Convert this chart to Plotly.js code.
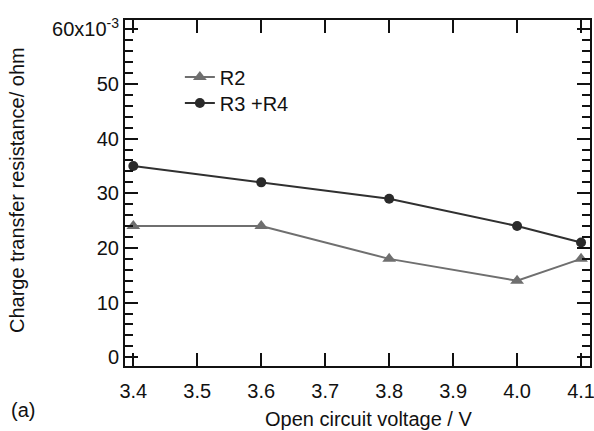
<!DOCTYPE html>
<html>
<head>
<meta charset="utf-8">
<script src="https://cdn.plot.ly/plotly-3.0.1.min.js"></script>
<style>
  html, body { margin: 0; padding: 0; background: #fff; }
  #chart { width: 594px; height: 431px; }
</style>
</head>
<body>
<div id="chart"></div>
<script>
// Open circuit voltage (V)
const voltage = [3.4, 3.6, 3.8, 4.0, 4.1];
// Charge transfer resistance (ohm)
const r2 = [0.024, 0.024, 0.018, 0.014, 0.018];
const r3r4 = [0.035, 0.032, 0.029, 0.024, 0.021];

const xTickVals = [3.4, 3.5, 3.6, 3.7, 3.8, 3.9, 4.0, 4.1];
const xTickText = ["3.4", "3.5", "3.6", "3.7", "3.8", "3.9", "4.0", "4.1"];
const yTickVals = [0, 0.01, 0.02, 0.03, 0.04, 0.05, 0.06];
const yTickText = ["0", "10", "20", "30", "40", "50", "60x10<sup>-3</sup>"];

const FONT = "'Liberation Sans', Arial, Helvetica, sans-serif";
const INK = "#111";

const traces = [
  {
    x: voltage, y: r2, name: "R2", type: "scatter", mode: "lines+markers",
    legend: "legend",
    line: { color: "#6f6f6f", width: 2 },
    marker: { symbol: "triangle-up", size: 12, color: "#6f6f6f" }
  },
  {
    x: voltage, y: r3r4, name: "R3 +R4", type: "scatter", mode: "lines+markers",
    legend: "legend2",
    line: { color: "#303030", width: 2 },
    marker: { symbol: "circle", size: 10, color: "#2a2a2a" }
  }
];

// one legend box per series so the two rows can sit close together
const legendStyle = {
  xanchor: "left", yanchor: "middle",
  bgcolor: "rgba(0,0,0,0)", borderwidth: 0,
  font: { family: FONT, size: 20, color: INK }
};

const layout = {
  width: 594, height: 431,
  margin: { l: 125, r: 4, t: 20, b: 65, pad: 0 },
  paper_bgcolor: "#fff", plot_bgcolor: "#fff",
  font: { family: FONT, size: 20, color: INK },
  showlegend: true,
  legend: Object.assign({ x: 0.118, y: 0.835 }, legendStyle),
  legend2: Object.assign({ x: 0.118, y: 0.760 }, legendStyle),
  xaxis: {
    range: [3.387, 4.114],
    tickmode: "array", tickvals: xTickVals, ticktext: xTickText,
    ticks: "inside", ticklen: 13, tickwidth: 2, tickcolor: INK,
    ticklabelstandoff: 6, ticklabeloverflow: "allow",
    showline: true, linewidth: 2, linecolor: INK, mirror: "ticks",
    showgrid: false, zeroline: false, layer: "above traces",
    tickfont: { family: FONT, size: 20, color: INK },
    automargin: false
  },
  yaxis: {
    range: [-0.0016, 0.0617],
    tickmode: "array", tickvals: yTickVals, ticktext: yTickText,
    ticks: "inside", ticklen: 13, tickwidth: 2, tickcolor: INK,
    minor: { dtick: 0.002, ticks: "inside", ticklen: 8, tickwidth: 2, tickcolor: INK },
    showline: true, linewidth: 2, linecolor: INK, mirror: "ticks",
    showgrid: false, zeroline: false, layer: "above traces",
    tickfont: { family: FONT, size: 20, color: INK },
    automargin: false
  },
  annotations: [
    {
      text: "Open circuit voltage / V",
      xref: "paper", yref: "paper", x: 0.523, y: -0.152,
      xanchor: "center", yanchor: "middle", showarrow: false,
      font: { family: FONT, size: 20, color: INK }
    },
    {
      text: "Charge transfer resistance/ ohm",
      xref: "paper", yref: "paper", x: -0.232, y: 0.509,
      xanchor: "center", yanchor: "middle", textangle: -90, showarrow: false,
      font: { family: FONT, size: 20, color: INK }
    },
    {
      text: "(a)",
      xref: "paper", yref: "paper", x: -0.25, y: -0.127,
      xanchor: "left", yanchor: "middle", showarrow: false,
      font: { family: FONT, size: 20, color: INK }
    }
  ]
};

Plotly.newPlot("chart", traces, layout, { displayModeBar: false, staticPlot: true });
</script>
</body>
</html>
